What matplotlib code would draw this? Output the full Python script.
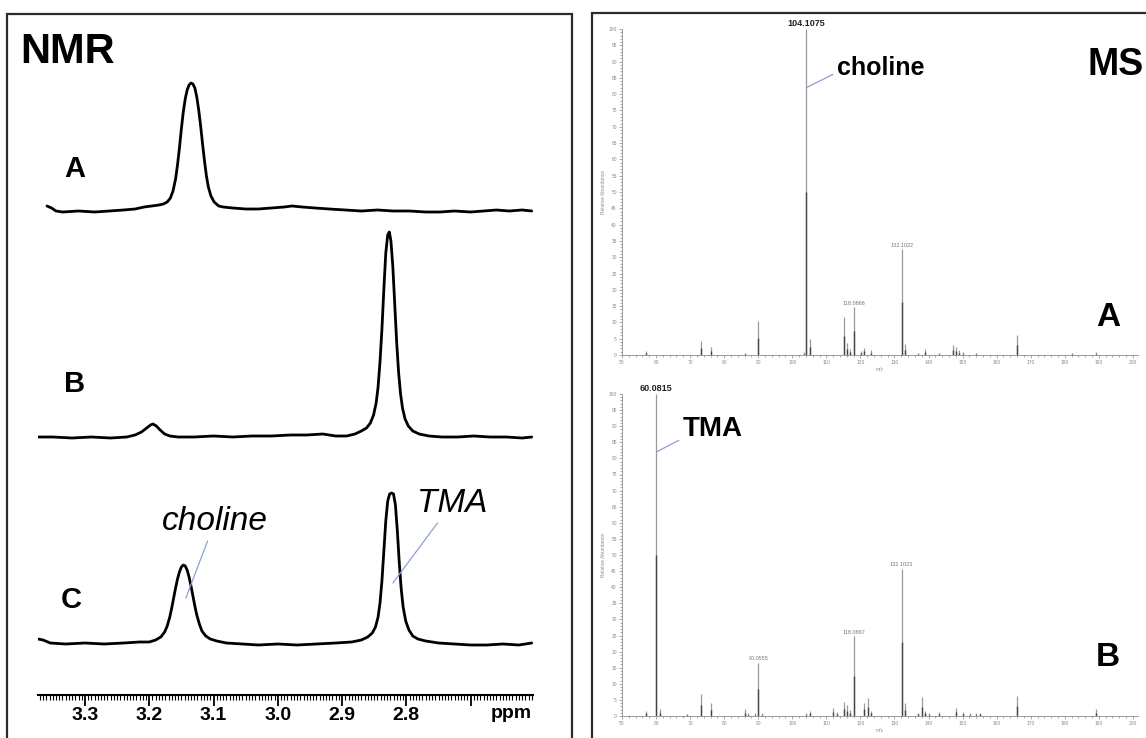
import matplotlib
matplotlib.use("Agg")
import matplotlib.pyplot as plt
import numpy as np
from matplotlib.patches import Rectangle
from matplotlib.ticker import FixedLocator, MultipleLocator

plt.rcParams["font.family"] = ["Liberation Sans", "DejaVu Sans"]

# ---- NMR traces (ppm, height above own baseline) ----
NMR_A_PPM = [3.359, 3.352, 3.345, 3.335, 3.310, 3.285, 3.262, 3.240, 3.222, 3.208,
             3.196, 3.185, 3.178, 3.172, 3.167, 3.163, 3.159, 3.156, 3.153, 3.150,
             3.147, 3.144, 3.141, 3.138, 3.135, 3.132, 3.129, 3.126, 3.123, 3.120,
             3.117, 3.114, 3.111, 3.108, 3.104, 3.099, 3.092, 3.085, 3.070, 3.050,
             3.030, 3.010, 2.990, 2.978, 2.962, 2.942, 2.920, 2.895, 2.870, 2.845,
             2.820, 2.795, 2.770, 2.748, 2.725, 2.700, 2.680, 2.660, 2.640, 2.620, 2.605]
NMR_A_INT = [5, 3, 0, -1, 0, -1, 0, 1, 2, 4,
             5, 6, 7, 9, 13, 20, 32, 46, 63, 82,
             99, 112, 121, 126, 128, 127, 123, 114, 101, 85,
             67, 50, 35, 24, 15, 9, 5, 4, 3, 2,
             2, 3, 4, 5, 4, 3, 2, 1, 0, 1,
             0, 0, -1, -1, 0, -1, 0, 1, 0, 1, 0]

NMR_B_PPM = [3.373, 3.350, 3.320, 3.290, 3.260, 3.235, 3.222, 3.212, 3.204, 3.198,
             3.194, 3.189, 3.183, 3.176, 3.168, 3.155, 3.130, 3.100, 3.070, 3.040,
             3.010, 2.980, 2.955, 2.930, 2.910, 2.893, 2.880, 2.870, 2.862, 2.856,
             2.851, 2.847, 2.844, 2.841, 2.838, 2.835, 2.832, 2.829, 2.8265, 2.824,
             2.821, 2.818, 2.815, 2.812, 2.809, 2.806, 2.802, 2.797, 2.790, 2.780,
             2.765, 2.745, 2.720, 2.695, 2.670, 2.645, 2.620, 2.605]
NMR_B_INT = [0, 0, -1, 0, -1, 0, 2, 5, 9, 12,
             13, 11, 7, 3, 1, 0, 0, 1, 0, 1,
             1, 2, 2, 3, 1, 1, 3, 6, 9, 14,
             22, 34, 50, 75, 108, 148, 184, 202, 205, 196,
             170, 132, 94, 64, 43, 29, 18, 11, 6, 3,
             1, 0, 0, 1, 0, 0, -1, 0]

NMR_C_PPM = [3.373, 3.365, 3.354, 3.330, 3.300, 3.270, 3.240, 3.215, 3.200, 3.190,
             3.182, 3.176, 3.172, 3.168, 3.165, 3.162, 3.159, 3.156, 3.153, 3.150,
             3.147, 3.144, 3.141, 3.138, 3.135, 3.132, 3.129, 3.126, 3.122, 3.118,
             3.112, 3.105, 3.095, 3.080, 3.055, 3.030, 3.000, 2.970, 2.940, 2.910,
             2.885, 2.870, 2.860, 2.853, 2.848, 2.844, 2.841, 2.838, 2.835, 2.832,
             2.829, 2.826, 2.823, 2.820, 2.817, 2.814, 2.811, 2.808, 2.805, 2.801,
             2.796, 2.790, 2.782, 2.770, 2.750, 2.725, 2.700, 2.675, 2.650, 2.625, 2.605]
NMR_C_INT = [4, 3, 0, -1, 0, -1, 0, 1, 1, 3,
             6, 11, 17, 26, 35, 45, 55, 64, 71, 76,
             78, 77, 73, 66, 57, 47, 37, 28, 19, 12,
             7, 4, 2, 0, -1, -2, -1, -2, -1, 0,
             1, 3, 6, 10, 16, 26, 40, 62, 92, 122,
             142, 149, 150, 149, 138, 112, 80, 54, 36, 22,
             13, 7, 4, 2, 0, -1, -2, -2, -1, -2, 0]

NMR_NAMES = ["A", "B", "C"]
NMR_TICKS = [3.3, 3.2, 3.1, 3.0, 2.9, 2.8, 2.7, 2.6]
NMR_TICK_LABELS = ["3.3", "3.2", "3.1", "3.0", "2.9", "2.8", "", ""]

# ---- MS spectra (m/z, relative abundance %) ----
MS_A_MZ = [57.07, 73.05, 76.08, 86.10, 90.06, 103.5, 104.1075, 105.11, 115.05, 116.07,
           117.05, 118.0866, 120.08, 121.10, 123.05, 132.1022, 133.10, 137.05, 139.05,
           143.08, 147.11, 148.08, 149.05, 150.06, 154.05, 166.09, 182.08, 189.06]
MS_A_ABUND = [1.2, 4.3, 2.5, 0.7, 10.4, 0.8, 100.0, 4.8, 11.6, 3.6,
              1.7, 14.8, 1.2, 2.2, 1.4, 32.4, 3.3, 0.5, 1.7,
              0.7, 3.1, 2.5, 1.4, 0.8, 0.5, 6.0, 0.7, 0.9]
MS_A_LABEL_MZ = [104.1075, 118.0866, 132.1022]

MS_B_MZ = [52.05, 57.07, 60.0815, 61.08, 69.07, 73.05, 76.08, 86.10, 87.05, 89.06,
           90.0555, 91.05, 104.10, 105.07, 112.08, 113.05, 115.05, 116.07, 117.05,
           118.0867, 121.10, 122.10, 123.05, 132.1023, 133.10, 137.05, 138.09, 139.05,
           140.05, 143.08, 148.08, 150.06, 152.05, 154.05, 155.06, 166.09, 189.06]
MS_B_ABUND = [0.3, 1.6, 100.0, 2.1, 0.5, 6.7, 3.9, 2.1, 0.8, 0.8,
              16.6, 0.8, 0.8, 1.6, 2.4, 1.2, 4.3, 3.4, 1.9,
              24.8, 4.1, 5.7, 1.6, 45.8, 3.9, 1.0, 5.9, 1.6,
              0.8, 1.3, 2.4, 1.2, 0.8, 0.8, 1.0, 6.2, 2.1]
MS_B_LABEL_MZ = [60.0815, 90.0555, 118.0867, 132.1023]

W, H = 1146, 738
fig = plt.figure(figsize=(W / 100, H / 100), dpi=100)


def box(x0, y0, x1, y1):
    """Pixel box (top-left origin) to figure-fraction rect."""
    return [x0 / W, 1 - y1 / H, (x1 - x0) / W, (y1 - y0) / H]


def fxy(x, y):
    return (x / W, 1 - y / H)


# panel frames
for x0, y0, x1, y1 in [(7, 14, 572, 770), (592, 13, 1180, 770)]:
    fig.add_artist(Rectangle(fxy(x0, y1), (x1 - x0) / W, (y1 - y0) / H,
                             transform=fig.transFigure, fill=False,
                             edgecolor="#2b2b2b", linewidth=1.6, clip_on=False))

# ---------------- NMR panel ----------------
ax = fig.add_axes(box(38, 40, 533, 695))
ax.set_xlim(3.373, 2.603)
ax.set_ylim(0, 655)
offsets = [484, 258, 52]
traces = [(NMR_A_PPM, NMR_A_INT), (NMR_B_PPM, NMR_B_INT), (NMR_C_PPM, NMR_C_INT)]
for (ppm, inten), off in zip(traces, offsets):
    ax.plot(ppm, np.array(inten) + off, color="black", lw=2.0,
            solid_joinstyle="round", solid_capstyle="round")

for s in ("top", "left", "right"):
    ax.spines[s].set_visible(False)
ax.spines["bottom"].set_linewidth(1.5)
ax.set_yticks([])
ax.xaxis.set_major_locator(FixedLocator(NMR_TICKS))
ax.set_xticklabels(NMR_TICK_LABELS)
ax.xaxis.set_minor_locator(MultipleLocator(0.005))
ax.tick_params(axis="x", which="major", direction="out", length=8, width=1.3,
               labelsize=14, pad=1)
ax.tick_params(axis="x", which="minor", direction="out", length=3.5, width=0.8)
for lbl in ax.get_xticklabels():
    lbl.set_fontweight("bold")
ax.patch.set_alpha(0)

fig.text(*fxy(532, 713), "ppm", ha="right", va="center", fontsize=14, fontweight="bold")
fig.text(*fxy(20, 63), "NMR", ha="left", va="baseline", fontsize=30, fontweight="bold")
for name, (x, y) in zip(NMR_NAMES, [(75, 169), (75, 384), (71, 600)]):
    fig.text(*fxy(x, y), name, ha="center", va="center", fontsize=21, fontweight="bold")

lead = dict(arrowstyle="-", color="#8aa2d2", lw=0.9, shrinkA=1, shrinkB=0)
ax.annotate("choline", xy=(3.143, 97), xytext=(3.181, 165), ha="left", va="baseline",
            fontsize=24, fontstyle="italic",
            arrowprops=dict(lead, relpos=(0.45, 0.0)))
ax.annotate("TMA", xy=(2.821, 112), xytext=(2.783, 183), ha="left", va="baseline",
            fontsize=24, fontstyle="italic",
            arrowprops=dict(lead, relpos=(0.33, 0.0)))


# ---------------- MS panels ----------------
def ms_axes(rect):
    a = fig.add_axes(box(*rect))
    a.set_xlim(50, 201.5)
    a.set_ylim(0, 100)
    for s in ("top", "right"):
        a.spines[s].set_visible(False)
    for s in ("left", "bottom"):
        a.spines[s].set_color("#8a8a8a")
        a.spines[s].set_linewidth(0.6)
    a.xaxis.set_major_locator(MultipleLocator(10))
    a.xaxis.set_minor_locator(MultipleLocator(2))
    a.yaxis.set_major_locator(MultipleLocator(5))
    a.yaxis.set_minor_locator(MultipleLocator(1))
    a.tick_params(which="both", direction="out", colors="#8a8a8a", width=0.5,
                  labelsize=3.5)
    a.tick_params(which="major", length=2.5, pad=1.2)
    a.tick_params(which="minor", length=1.2)
    a.set_ylabel("Relative Abundance", fontsize=3.5, color="#8a8a8a", labelpad=2)
    a.set_xlabel("m/z", fontsize=3.5, color="#8a8a8a", labelpad=1)
    a.patch.set_alpha(0)
    return a


def draw_sticks(a, mz, ab, label_mz, bold_mz):
    mz = np.array(mz)
    ab = np.array(ab)
    a.vlines(mz, 0, ab, color="#9a9a9a", lw=0.9)
    a.vlines(mz, 0, ab / 2, color="#444444", lw=1.0)
    for m in label_mz:
        h = ab[np.argmin(np.abs(mz - m))]
        txt = f"{m:.4f}"
        if m == bold_mz:
            a.annotate(txt, (m, h), xytext=(0, 0.5), textcoords="offset points",
                       ha="center", va="bottom", fontsize=6.5, fontweight="bold",
                       color="#222222")
        else:
            a.annotate(txt, (m, h), xytext=(0, 0.8), textcoords="offset points",
                       ha="center", va="bottom", fontsize=4, color="#777777")


axA = ms_axes((622, 29, 1138, 355))
draw_sticks(axA, MS_A_MZ, MS_A_ABUND, MS_A_LABEL_MZ, 104.1075)
axA.annotate("choline", xy=(104.1075, 82), xytext=(113.1, 86), ha="left",
             va="baseline", fontsize=18, fontweight="bold",
             arrowprops=dict(lead, relpos=(0.0, 0.3)))

axB = ms_axes((622, 394, 1138, 716))
draw_sticks(axB, MS_B_MZ, MS_B_ABUND, MS_B_LABEL_MZ, 60.0815)
axB.annotate("TMA", xy=(60.0815, 82), xytext=(67.9, 87), ha="left",
             va="baseline", fontsize=20, fontweight="bold",
             arrowprops=dict(lead, relpos=(0.05, 0.2)))

fig.text(*fxy(1116, 65), "MS", ha="center", va="center", fontsize=27, fontweight="bold")
fig.text(*fxy(1108, 318), "A", ha="center", va="center", fontsize=24, fontweight="bold")
fig.text(*fxy(1108, 657), "B", ha="center", va="center", fontsize=24, fontweight="bold")

fig.savefig("out.png", dpi=100)
